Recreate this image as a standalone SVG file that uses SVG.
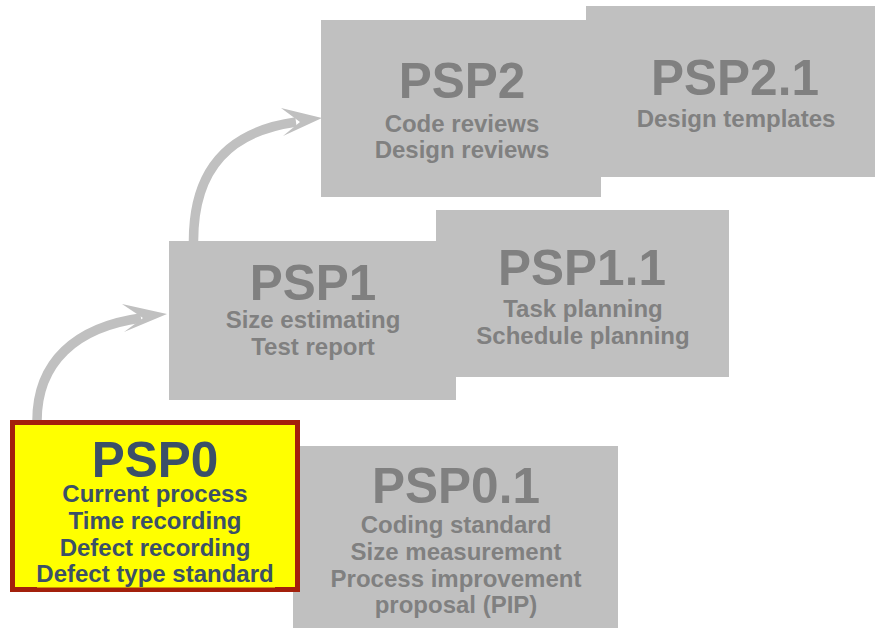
<svg xmlns="http://www.w3.org/2000/svg" width="875" height="628" viewBox="0 0 875 628">
  <style>
    .box { fill: #c0c0c0; }
    .title { font-family: "Liberation Sans", Arial, sans-serif; font-weight: bold; font-size: 49.5px; fill: #808080; text-anchor: middle; }
    .sub { font-family: "Liberation Sans", Arial, sans-serif; font-weight: bold; font-size: 24px; fill: #808080; text-anchor: middle; }
    .cur .title, .cur .sub { fill: #3b5068; }
    .flow { fill: none; stroke: #c0c0c0; stroke-width: 9.5; }
    .head { fill: #c0c0c0; }
  </style>
  <rect width="875" height="628" fill="#ffffff"/>

  <!-- level-to-level connectors -->
  <g id="connectors">
    <path class="flow" d="M37,421 C37,362 76,327 141,318"/>
    <polygon class="head" points="167,314 122,304 143,318 124,332"/>
    <path class="flow" d="M193.5,241 C193.5,166 232,131 296,122"/>
    <polygon class="head" points="322,118 281,108 300,122 283,136"/>
  </g>

  <g id="psp2">
    <rect class="box" x="321" y="20" width="280" height="177"/>
    <text class="title" x="462" y="98">PSP2</text>
    <text class="sub" x="462" y="132">Code reviews</text>
    <text class="sub" x="462" y="158">Design reviews</text>
  </g>

  <g id="psp2-1">
    <rect class="box" x="586" y="6" width="300" height="171"/>
    <text class="title" x="735" y="95">PSP2.1</text>
    <text class="sub" x="736" y="127">Design templates</text>
  </g>

  <g id="psp1-1">
    <rect class="box" x="436" y="210" width="293" height="167"/>
    <text class="title" x="582" y="285">PSP1.1</text>
    <text class="sub" x="583" y="317">Task planning</text>
    <text class="sub" x="583" y="344">Schedule planning</text>
  </g>

  <g id="psp1">
    <rect class="box" x="169" y="241" width="287" height="159"/>
    <text class="title" x="313" y="300">PSP1</text>
    <text class="sub" x="313" y="328">Size estimating</text>
    <text class="sub" x="313" y="355">Test report</text>
  </g>

  <g id="psp0-1">
    <rect class="box" x="293" y="446" width="325" height="182"/>
    <text class="title" x="456" y="503">PSP0.1</text>
    <text class="sub" x="456" y="533">Coding standard</text>
    <text class="sub" x="456" y="560">Size measurement</text>
    <text class="sub" x="456" y="587">Process improvement</text>
    <text class="sub" x="456" y="613">proposal (PIP)</text>
  </g>

  <g id="psp0" class="cur">
    <rect x="12.5" y="422.5" width="285" height="167" fill="#ffff00" stroke="#a3200c" stroke-width="5"/>
    <rect x="37" y="566" width="238" height="21.5" fill="#ffff00"/>
    <text class="title" x="155" y="477">PSP0</text>
    <text class="sub" x="155" y="502">Current process</text>
    <text class="sub" x="155" y="529">Time recording</text>
    <text class="sub" x="155" y="556">Defect recording</text>
    <text class="sub" x="155" y="582">Defect type standard</text>
  </g>
</svg>
